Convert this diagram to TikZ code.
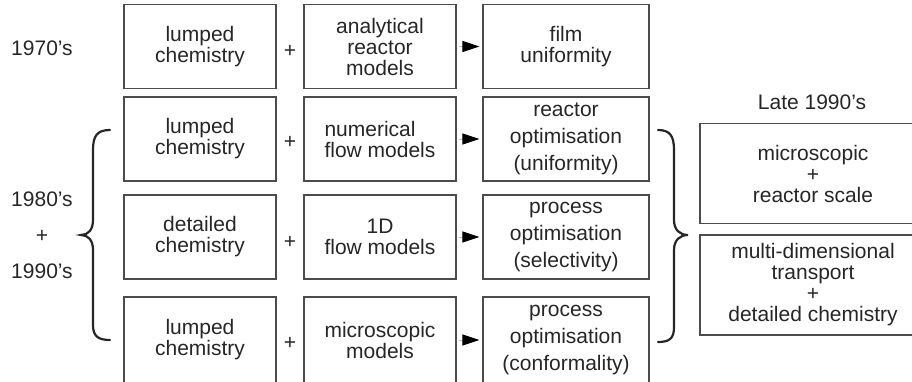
\documentclass[tikz,border=0pt]{standalone}
\usepackage{fontspec}
\setmainfont{Liberation Sans}
\usetikzlibrary{arrows.meta, positioning, calc}
\tikzset{
  box/.style={rectangle, draw=black!70, line width=1.1pt, inner sep=0pt,
    align=center, font=\fontsize{21}{21}\selectfont, text=black!85},
  chem/.style={box, minimum width=152pt, minimum height=84pt},
  model/.style={box, minimum width=152pt, minimum height=84pt},
  outcome/.style={box, minimum width=166pt, minimum height=84pt},
  wide/.style={font=\fontsize{21}{27}\selectfont},
  late/.style={box, minimum width=226pt, minimum height=100pt},
  plus/.style={font=\fontsize{21}{21}\selectfont, text=black!85, inner sep=0pt},
  era/.style={font=\fontsize{21}{21}\selectfont, text=black!85, align=center, inner sep=0pt},
  arr/.style={-{Triangle[length=17pt, width=11pt, black]}, gray!50, line width=1pt,
    shorten <=2pt, shorten >=3pt},
  brace/.style={line width=2.2pt, black!85, line cap=round},
}
\begin{document}
\begin{tikzpicture}[x=1pt, y=-1pt]
  \useasboundingbox (0,0) rectangle (912,381);

  % Row 1 (1970's)
  \node[chem] (c1) at (200,46.5) {lumped\\chemistry};
  \node[model] (m1) at (380,46.5) {analytical\\reactor\\models};
  \node[outcome] (o1) at (566,46.5) {film\\uniformity};

  % Row 2
  \node[chem] (c2) at (200,139) {lumped\\chemistry};
  \node[model, align=left] (m2) at (380,139) {numerical\\flow models};
  \node[outcome, wide] (o2) at (566,139) {reactor\\optimisation\\(uniformity)};

  % Row 3
  \node[chem] (c3) at (200,237) {detailed\\chemistry};
  \node[model] (m3) at (380,237) {1D\\flow models};
  \node[outcome, wide] (o3) at (566,237) {process\\optimisation\\(selectivity)};

  % Row 4
  \node[chem, minimum height=86pt] (c4) at (200,340) {lumped\\chemistry};
  \node[model, minimum height=86pt] (m4) at (380,340) {microscopic\\models};
  \node[outcome, wide, minimum height=86pt] (o4) at (566,340) {process\\optimisation\\(conformality)};

  % Plus signs and arrows
  \node[plus] (p1) at ($(c1.east)!0.5!(m1.west)+(0,5)$) {+};
  \node[plus] (p2) at ($(c2.east)!0.5!(m2.west)+(0,3)$) {+};
  \node[plus] (p3) at ($(c3.east)!0.5!(m3.west)+(0,5)$) {+};
  \node[plus] (p4) at ($(c4.east)!0.5!(m4.west)+(0,3)$) {+};
  \draw[arr] (m1) -- (o1);
  \draw[arr] (m2) -- (o2);
  \draw[arr] (m3) -- (o3);
  \draw[arr] (m4) -- (o4);

  % Era labels
  \node[era] (e70) at (42,48) {1970's};
  \node[era, font=\fontsize{21}{36}\selectfont] (e80) at (42,235) {1980's\\+\\1990's};
  \node[era] (e90) at (812,102) {Late 1990's};

  % Late 1990's boxes
  \node[late] (r1) at (813,173.5) {microscopic\\+\\reactor scale};
  \node[late] (r2) at (813,285) {multi-dimensional\\transport\\+\\detailed chemistry};

  % Braces
  \draw[brace] (110,130) .. controls (97,130) and (93,136) .. (93,150) -- (93,220)
    .. controls (93,230) and (88,235) .. (81,235)
    .. controls (88,235) and (93,240) .. (93,250) -- (93,325)
    .. controls (93,336) and (98,340) .. (110,340);
  \draw[brace] (658,130) .. controls (670,130) and (674,136) .. (674,150) -- (674,220)
    .. controls (674,230) and (680,235) .. (688,235)
    .. controls (680,235) and (674,240) .. (674,250) -- (674,327)
    .. controls (674,338) and (670,342) .. (658,342);
\end{tikzpicture}
\end{document}
